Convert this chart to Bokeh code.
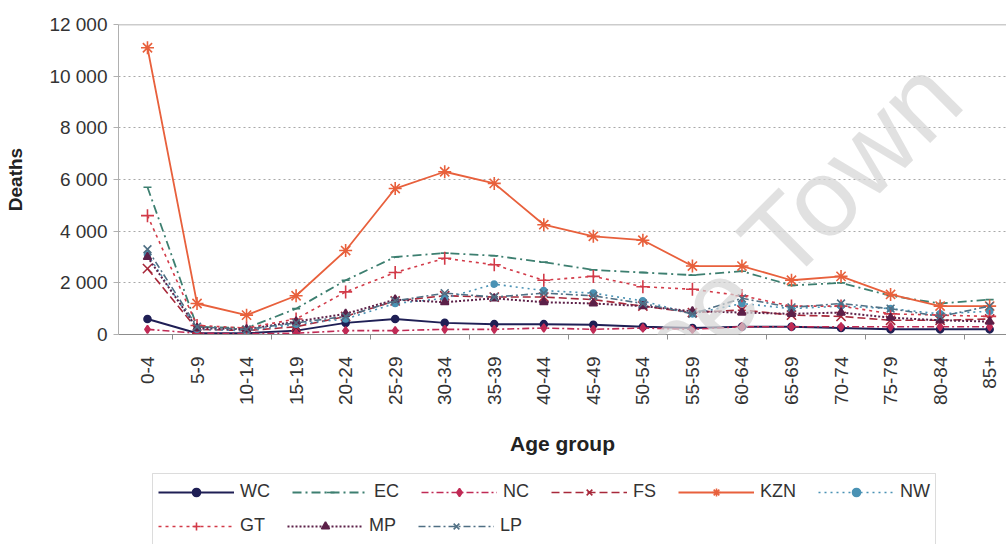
import math
from bokeh.plotting import figure
from bokeh.layouts import column
from bokeh.models import (FixedTicker, Legend, LegendItem, Span, Label, Range1d,
                          BoxAnnotation)
from bokeh.embed import file_html
from bokeh.resources import INLINE

# ---------------- data ----------------
age_groups = ["0-4", "5-9", "10-14", "15-19", "20-24", "25-29", "30-34", "35-39",
              "40-44", "45-49", "50-54", "55-59", "60-64", "65-69", "70-74",
              "75-79", "80-84", "85+"]

y_ticks = [0, 2000, 4000, 6000, 8000, 10000, 12000]
y_tick_labels = ["0", "2 000", "4 000", "6 000", "8 000", "10 000", "12 000"]

series_names = ["WC", "EC", "NC", "FS", "KZN", "NW", "GT", "MP", "LP"]
legend_rows = [["WC", "EC", "NC", "FS", "KZN", "NW"], ["GT", "MP", "LP"]]

wc = [600, 50, 50, 150, 450, 600, 450, 400, 400, 380, 300, 250, 300, 300, 250, 200, 200, 200]
ec = [5700, 300, 250, 1000, 2100, 3000, 3150, 3050, 2800, 2500, 2400, 2300, 2450, 1900, 2000, 1500, 1200, 1350]
nc = [200, 50, 30, 50, 150, 150, 200, 200, 250, 200, 250, 200, 300, 300, 300, 300, 300, 300]
fs = [2550, 200, 150, 300, 700, 1300, 1500, 1450, 1450, 1350, 1100, 850, 950, 750, 700, 550, 550, 600]
kzn = [11100, 1200, 750, 1500, 3250, 5650, 6300, 5850, 4250, 3800, 3650, 2650, 2650, 2100, 2250, 1550, 1100, 1100]
nw = [3100, 200, 150, 400, 600, 1200, 1400, 1950, 1700, 1600, 1300, 800, 1200, 1000, 1100, 1000, 800, 900]
gt = [4600, 350, 250, 600, 1650, 2400, 2950, 2700, 2100, 2250, 1850, 1750, 1500, 1100, 1100, 800, 750, 700]
mp = [3000, 250, 200, 500, 800, 1350, 1250, 1400, 1250, 1200, 1100, 900, 850, 800, 850, 650, 550, 500]
lp = [3300, 300, 200, 450, 700, 1300, 1600, 1450, 1600, 1500, 1200, 800, 1400, 1050, 1200, 1000, 700, 1100]

series_values = [wc, ec, nc, fs, kzn, nw, gt, mp, lp]

# ---------------- styles ----------------
styles = {
    "WC":  dict(color="#1f1f55", dash="solid",   width=2.0, marker="circle",   size=7),
    "EC":  dict(color="#3d7f70", dash="9 4 2 4", width=1.8, marker="dash",     size=8),
    "NC":  dict(color="#c02a55", dash="7 3 2 3", width=1.6, marker="diamond",  size=8),
    "FS":  dict(color="#a8283a", dash="8 4",     width=1.6, marker="x",        size=13),
    "KZN": dict(color="#e8603c", dash="solid",   width=1.8, marker="asterisk", size=13),
    "NW":  dict(color="#4a92b4", dash="2 4",     width=1.6, marker="circle",   size=6),
    "GT":  dict(color="#d23a48", dash="3 4",     width=1.6, marker="cross",    size=13),
    "MP":  dict(color="#5c2048", dash="2 2",     width=2.0, marker="triangle", size=8),
    "LP":  dict(color="#4f6f84", dash="7 3 2 3", width=1.6, marker="x",        size=11),
}

FONT = "Liberation Sans"
x_idx = list(range(len(age_groups)))

# ---------------- main chart ----------------
p = figure(width=1006, height=472, output_backend="svg", toolbar_location=None,
           x_range=Range1d(-0.585, 17.34), y_range=Range1d(y_ticks[0], y_ticks[-1]),
           min_border_left=118, min_border_right=0, min_border_top=24,
           min_border_bottom=138)
p.outline_line_color = None
p.background_fill_color = "white"

p.xgrid.visible = False
p.ygrid.ticker = FixedTicker(ticks=y_ticks[1:-1])
p.ygrid.grid_line_color = "#a8a8a8"
p.ygrid.grid_line_dash = "2 3"
p.ygrid.grid_line_width = 1
p.add_layout(Span(location=y_ticks[-1], dimension="width", line_color="#9a9a9a", line_width=1.5))

ya = p.yaxis[0]
ya.ticker = FixedTicker(ticks=y_ticks)
ya.major_label_overrides = {t: l for t, l in zip(y_ticks, y_tick_labels)}
ya.axis_line_color = "#b0b0b0"
ya.major_tick_line_color = "#b0b0b0"
ya.major_tick_out = 5
ya.major_tick_in = 0
ya.minor_tick_line_color = None
ya.major_label_standoff = 6
ya.major_label_text_font = FONT
ya.major_label_text_font_size = "19px"
ya.major_label_text_color = "#333333"
ya.axis_label = "Deaths"
ya.axis_label_text_font = FONT
ya.axis_label_text_font_size = "19px"
ya.axis_label_text_font_style = "bold"
ya.axis_label_text_color = "#222222"
ya.axis_label_standoff = 20

xa = p.xaxis[0]
xa.ticker = FixedTicker(ticks=x_idx, minor_ticks=[i + 0.5 for i in x_idx[::2]])
xa.major_label_overrides = {i: g for i, g in zip(x_idx, age_groups)}
xa.major_label_orientation = math.pi / 2
xa.axis_line_color = "#8c8c8c"
xa.major_tick_line_color = None
xa.major_tick_out = 0
xa.major_tick_in = 0
xa.minor_tick_line_color = "#8c8c8c"
xa.minor_tick_out = 5
xa.minor_tick_in = 0
xa.major_label_standoff = 17
xa.major_label_text_font = FONT
xa.major_label_text_font_size = "19px"
xa.major_label_text_color = "#333333"
xa.axis_label = "Age group"
xa.axis_label_text_font = FONT
xa.axis_label_text_font_size = "21px"
xa.axis_label_text_font_style = "bold"
xa.axis_label_text_color = "#222222"
xa.axis_label_standoff = 24

for name, vals in zip(series_names, series_values):
    st = styles[name]
    p.line(x_idx, vals, line_color=st["color"], line_width=st["width"], line_dash=st["dash"])
    p.scatter(x_idx, vals, marker=st["marker"], size=st["size"],
              line_color=st["color"], fill_color=st["color"], line_width=1.6)

wm = Label(x=16.92, y=8300, text="University of Cape Town", angle=45, angle_units="deg",
           text_align="right", text_baseline="bottom", text_font=FONT,
           text_font_size="110px", text_color="#d4d4d4", text_alpha=0.7)
p.add_layout(wm)

# ---------------- legend strip below the chart ----------------
# its frame has the same borders as the chart; ranges are in pixels of that strip
LEG_W, LEG_H = 888, 72
pl = figure(width=1006, height=LEG_H, output_backend="svg", toolbar_location=None,
            x_axis_type=None, y_axis_type=None,
            x_range=Range1d(0, LEG_W), y_range=Range1d(0, LEG_H),
            min_border_left=118, min_border_right=0, min_border_top=0,
            min_border_bottom=0)
pl.xgrid.visible = False
pl.ygrid.visible = False
pl.outline_line_color = None

box_left, box_right, box_top = 34, 817, 71
pl.add_layout(BoxAnnotation(left=box_left, right=box_right, bottom=-20, top=box_top,
                            fill_alpha=0, line_color="#8c8c8c", line_width=1))

nan = float("nan")
leg_renderers = {}
for name in series_names:
    st = styles[name]
    rl = pl.line([nan], [nan], line_color=st["color"], line_width=st["width"],
                 line_dash=st["dash"])
    rm = pl.scatter([nan], [nan], marker=st["marker"], size=st["size"],
                    line_color=st["color"], fill_color=st["color"], line_width=1.6)
    leg_renderers[name] = [rl, rm]

row_locations = [(40, 42), (40, 8)]
for row, loc in zip(legend_rows, row_locations):
    lg = Legend(items=[LegendItem(label=n, renderers=leg_renderers[n]) for n in row],
                location=loc, orientation="horizontal",
                glyph_width=76, glyph_height=20, label_standoff=6, spacing=22,
                padding=6, margin=0, label_height=20,
                label_text_font=FONT, label_text_font_size="18px",
                label_text_color="#333333",
                border_line_color=None, background_fill_alpha=0)
    pl.add_layout(lg, "center")

open("out.html", "w").write(file_html(column(p, pl, spacing=0), INLINE))
